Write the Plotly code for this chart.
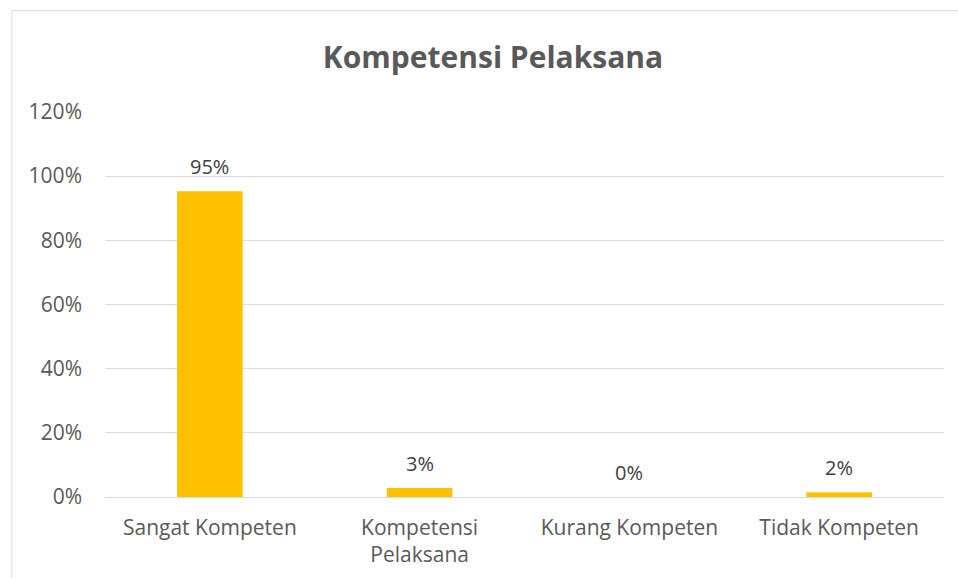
import plotly.graph_objects as go

categories = ["Sangat Kompeten", "Kompetensi<br>Pelaksana", "Kurang Kompeten", "Tidak Kompeten"]
values = [0.953, 0.028, 0.0, 0.015]
value_labels = ["95%", "3%", "0%", "2%"]
y_ticks = [0, 0.2, 0.4, 0.6, 0.8, 1.0, 1.2]
y_tick_labels = ["0%", "20%", "40%", "60%", "80%", "100%", "120%"]

FONT = "'Open Sans', sans-serif"

fig = go.Figure(go.Bar(
    x=categories, y=values,
    marker=dict(color="#FFC000", line=dict(width=0)),
    hoverinfo="skip",
))

annotations = [
    dict(x=c, y=v, xref="x", yref="y", text=t, showarrow=False,
         yanchor="middle", yshift=25,
         font=dict(family=FONT, size=20, color="#404040"))
    for c, v, t in zip(categories, values, value_labels)
]

fig.update_layout(
    width=958, height=578,
    margin=dict(l=105, r=14, t=111, b=81),
    paper_bgcolor="white", plot_bgcolor="white",
    bargap=0.687,
    showlegend=False,
    title=dict(text="<b>Kompetensi Pelaksana</b>", x=493 / 958, xanchor="center",
               y=1 - 57 / 578, yref="container", yanchor="middle",
               font=dict(family=FONT, size=30, color="#595959")),
    xaxis=dict(showgrid=False, showline=False, ticks="", automargin=False,
               ticklabelstandoff=16,
               tickfont=dict(family=FONT, size=21, color="#595959")),
    yaxis=dict(range=[0, 1.203], tickvals=y_ticks, ticktext=y_tick_labels,
               showgrid=True, gridcolor="#D9D9D9", gridwidth=1,
               zeroline=True, zerolinecolor="#D9D9D9", zerolinewidth=1,
               showline=False, ticks="", ticklabelstandoff=22, automargin=False,
               tickfont=dict(family=FONT, size=21, color="#595959")),
    annotations=annotations,
    shapes=[dict(type="rect", xref="paper", yref="paper",
                 x0=-0.111, x1=1.2, y0=-0.4, y1=1.26,
                 line=dict(color="#D9D9D9", width=1), fillcolor="rgba(0,0,0,0)",
                 layer="below")],
)

fig.write_html("out.html", config={"displayModeBar": False},
               post_script="document.body.style.margin='0';")
